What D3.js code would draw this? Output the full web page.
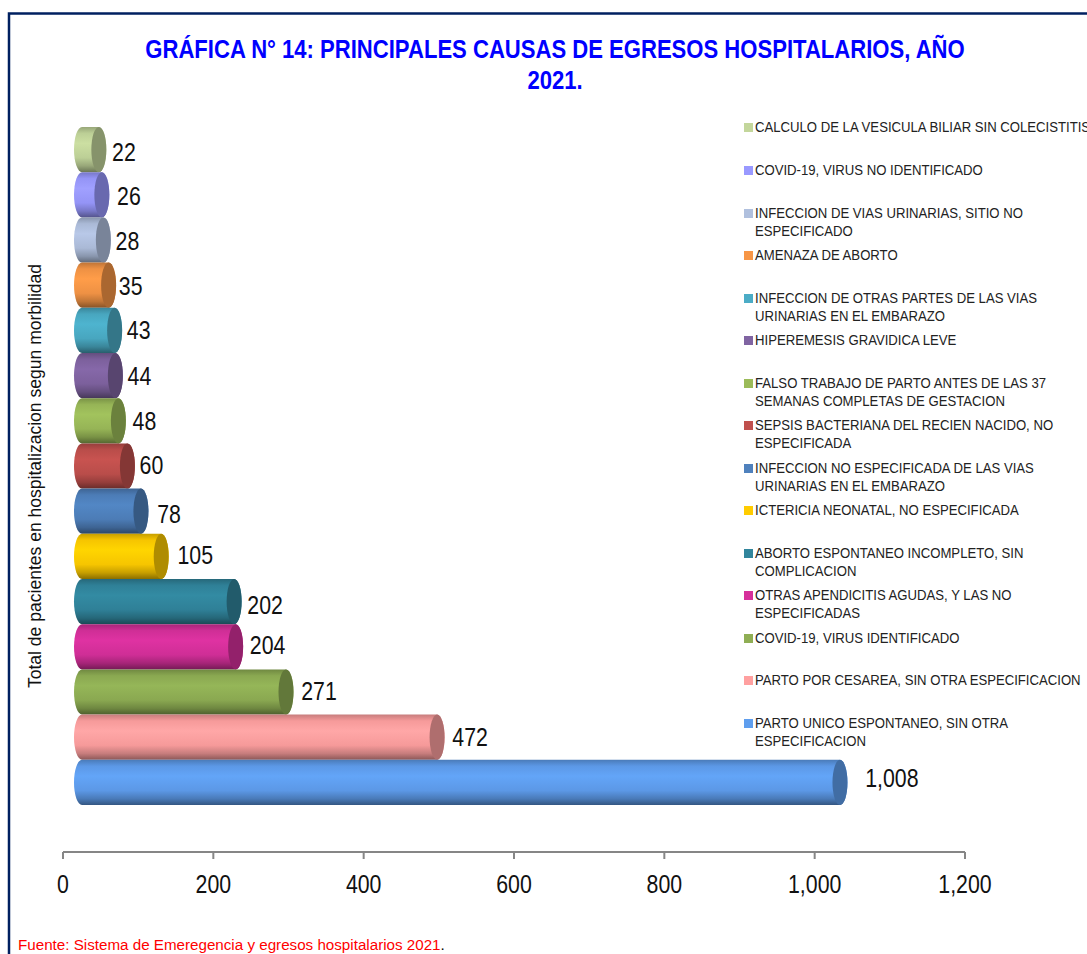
<!DOCTYPE html>
<html><head><meta charset="utf-8">
<script src="https://cdn.jsdelivr.net/npm/d3@7/dist/d3.min.js"></script>
<style>html,body{margin:0;padding:0;background:#fff;overflow:hidden}svg{display:block}text{font-family:"Liberation Sans",Arial,sans-serif}</style>
</head><body><svg id="c" width="1087" height="954"></svg>
<script>
const categories=["PARTO UNICO ESPONTANEO, SIN OTRA|ESPECIFICACION","PARTO POR CESAREA, SIN OTRA ESPECIFICACION","COVID-19, VIRUS IDENTIFICADO","OTRAS APENDICITIS AGUDAS, Y LAS NO|ESPECIFICADAS","ABORTO ESPONTANEO INCOMPLETO, SIN|COMPLICACION","ICTERICIA NEONATAL, NO ESPECIFICADA","INFECCION NO ESPECIFICADA DE LAS VIAS|URINARIAS EN EL EMBARAZO","SEPSIS BACTERIANA DEL RECIEN NACIDO, NO|ESPECIFICADA","FALSO TRABAJO DE PARTO ANTES DE LAS 37|SEMANAS COMPLETAS DE GESTACION","HIPEREMESIS GRAVIDICA LEVE","INFECCION DE OTRAS PARTES DE LAS VIAS|URINARIAS EN EL EMBARAZO","AMENAZA DE ABORTO","INFECCION DE VIAS URINARIAS, SITIO NO|ESPECIFICADO","COVID-19, VIRUS NO IDENTIFICADO","CALCULO DE LA VESICULA BILIAR SIN COLECISTITIS"];
const values=[1008,472,271,204,202,105,78,60,48,44,43,35,28,26,22];
const colors=["#5F9EEE","#FFA0A0","#8FAE54","#D6309B","#31859C","#FFCC00","#4F81BD","#C0504D","#9BBB59","#8064A2","#4BACC6","#F79646","#B0C0DE","#9999FF","#C3D69B"];
const xTicks=[0,200,400,600,800,1000,1200];
const titleLines=["GRÁFICA N° 14: PRINCIPALES CAUSAS DE EGRESOS HOSPITALARIOS, AÑO","2021."];
const yTitle="Total de pacientes en hospitalizacion segun morbilidad";
const source="Fuente: Sistema de Emeregencia y egresos hospitalarios 2021";
const labelDx=[17,7,7,6,5,8,8,4,6,4,4,2,4,7,5];
const labelDy=[-4,0,-1,-2,3,-1,3,-1,0,0,0,1,1,1,2];
const legendY=[724,681,639,596,554,511,469,426,384,341,299,256,214,171,128];

const svg=d3.select("#c");
const defs=svg.append("defs");
const x=d3.scaleLinear().domain([0,1200]).range([63,965]);
const y=d3.scaleBand().domain(d3.range(values.length)).range([805,127]).padding(0);
const depth=19.3, rx=7.5, axisY=852;

// frame
svg.append("path").attr("d","M9,954V13.5H1087").attr("fill","none").attr("stroke","#002060").attr("stroke-width",2.5);

function stext(parent,str,px,py,size,sx,opts={}){
  return parent.append("text").text(str)
    .attr("transform",`translate(${px},${py}) rotate(${opts.rot||0}) scale(${sx},1)`)
    .attr("font-size",size).attr("font-weight",opts.weight||"normal")
    .attr("text-anchor",opts.anchor||"start").attr("fill",opts.fill||"#000");
}
// title
titleLines.forEach((t,i)=>stext(svg,t,555,58+i*30.5,25,0.883,{anchor:"middle",weight:"bold",fill:"#0000FF"}));
// y title
stext(svg,yTitle,41,476,18,0.975,{anchor:"middle",rot:-90,fill:"#111"});

// axis
const ax=svg.append("g").attr("transform",`translate(0,${axisY})`);
ax.append("line").attr("x1",x(0)).attr("x2",x(1200)).attr("stroke","#868686").attr("stroke-width",2);
xTicks.forEach(t=>{
  ax.append("line").attr("x1",x(t)).attr("x2",x(t)).attr("y1",0).attr("y2",7).attr("stroke","#868686").attr("stroke-width",2);
  stext(ax,d3.format(",")(t),x(t),41,26,0.82,{anchor:"middle",fill:"#111"});
});

// cylinders, back to front
d3.range(values.length).reverse().forEach(i=>{
  const c=d3.color(colors[i]);
  const gid="g"+i;
  const g=defs.append("linearGradient").attr("id",gid).attr("x1",0).attr("x2",0).attr("y1",0).attr("y2",1);
  [[0,c.darker(0.7)],[0.14,c.darker(0.1)],[0.36,c.brighter(0.12)],[0.68,c.darker(0.1)],[0.86,c.darker(0.7)],[1,c.darker(1.7)]]
    .forEach(([o,col])=>g.append("stop").attr("offset",o).attr("stop-color",col.formatHex()));
  const top=y(i), bot=y(i)+y.bandwidth(), ry=y.bandwidth()/2;
  const x0=x(0)+19, x1=x(values[i])+depth;
  svg.append("path")
    .attr("d",`M${x0},${top}L${x1},${top}A${rx},${ry} 0 0 1 ${x1},${bot}L${x0},${bot}A${rx+0.5},${ry} 0 0 1 ${x0},${top}Z`)
    .attr("fill",`url(#${gid})`);
  svg.append("ellipse").attr("cx",x1).attr("cy",top+ry).attr("rx",rx).attr("ry",ry)
    .attr("fill",c.darker(1.05).formatHex());
});
// labels
values.forEach((v,i)=>{
  stext(svg,d3.format(",")(v),x(v)+20+rx+labelDx[i],y(i)+y.bandwidth()/2+9+labelDy[i],26,0.82,{fill:"#111"});
});
// legend
categories.forEach((n,i)=>{
  const ly=legendY[i];
  svg.append("rect").attr("x",744).attr("y",ly-5).attr("width",9).attr("height",9).attr("fill",colors[i]);
  n.split("|").forEach((l,j)=>stext(svg,l,755,ly+4+j*18,14.5,0.907,{fill:"#222"}));
});
// source
const st=stext(svg,source,18,950,15.5,0.98,{fill:"#FF0000"});
st.append("tspan").text(".").attr("fill","#000");
</script></body></html>
